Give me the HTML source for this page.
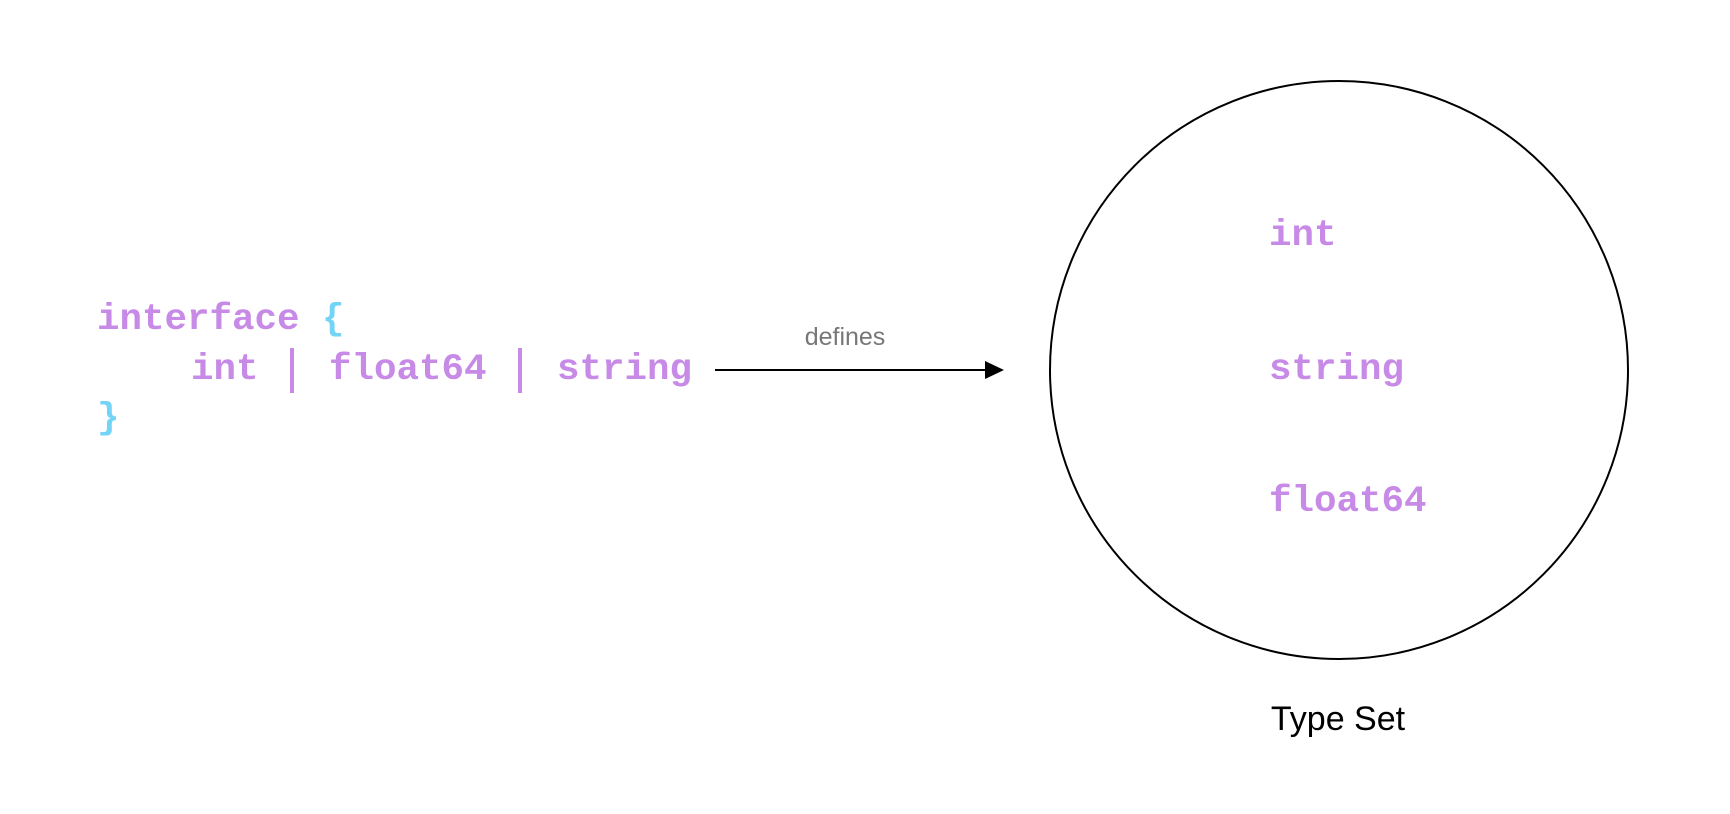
<!DOCTYPE html>
<html><head><meta charset="utf-8"><style>
html,body{margin:0;padding:0;background:#fff;}
svg{display:block}
.c{font-family:"Liberation Mono",monospace;font-size:37.5px;font-weight:bold;fill:#c78ae6}
.b{fill:#74d4f5}
</style></head><body>
<svg width="1730" height="814" viewBox="0 0 1730 814" xmlns="http://www.w3.org/2000/svg">
<rect width="1730" height="814" fill="#fff"/>
<text class="c" x="97" y="320" dominant-baseline="central" xml:space="preserve">interface <tspan class="b">{</tspan></text>
<text class="c" x="191" y="370" dominant-baseline="central">int</text>
<rect x="290" y="348" width="4" height="45" fill="#c78ae6"/>
<text class="c" x="329" y="370" dominant-baseline="central">float64</text>
<rect x="518" y="348" width="4" height="45" fill="#c78ae6"/>
<text class="c" x="557" y="370" dominant-baseline="central">string</text>
<text class="c b" x="97" y="419" dominant-baseline="central">}</text>
<line x1="715" y1="370" x2="988" y2="370" stroke="#000" stroke-width="2"/>
<polygon points="1004,370 985,361 985,379" fill="#000"/>
<text x="845" y="337" text-anchor="middle" dominant-baseline="central" font-family="Liberation Sans, sans-serif" font-size="25" fill="#777">defines</text>
<ellipse cx="1339" cy="370" rx="289" ry="289" fill="none" stroke="#000" stroke-width="2"/>
<text class="c" x="1269" y="236" dominant-baseline="central">int</text>
<text class="c" x="1269" y="370" dominant-baseline="central">string</text>
<text class="c" x="1269" y="502" dominant-baseline="central">float64</text>
<text x="1338" y="719" text-anchor="middle" dominant-baseline="central" font-family="Liberation Sans, sans-serif" font-size="34" fill="#000">Type Set</text>
</svg>
</body></html>
